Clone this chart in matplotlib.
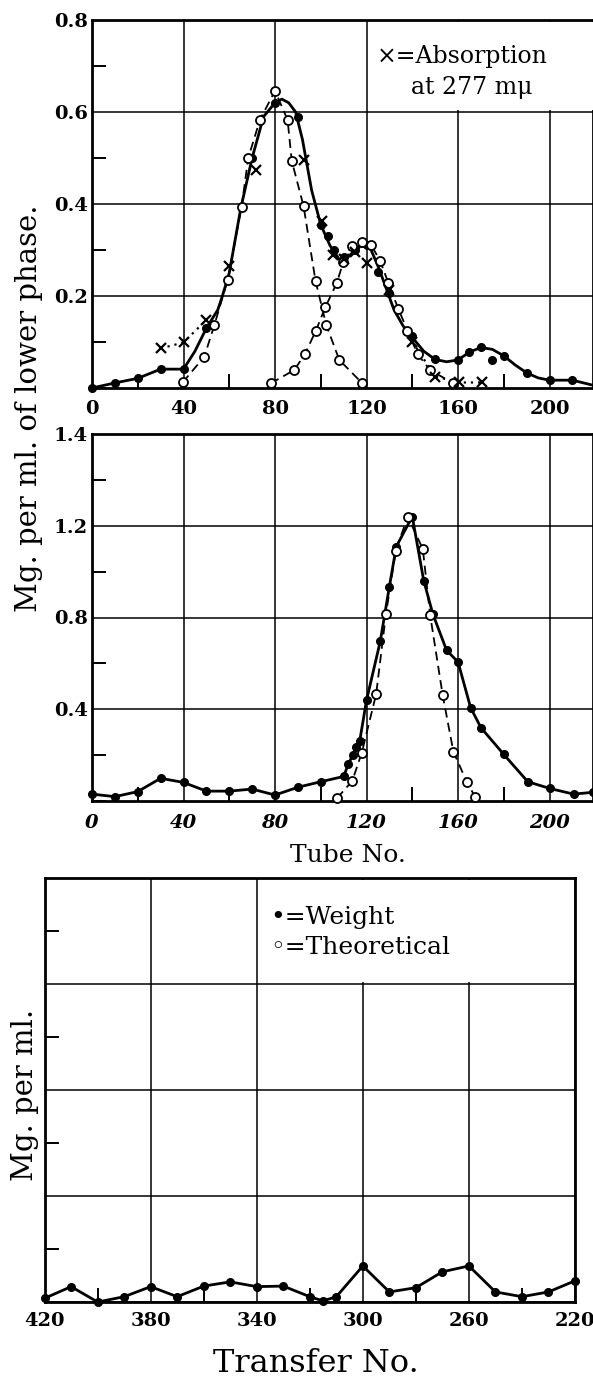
import matplotlib
matplotlib.use("Agg")
import numpy as np
import matplotlib.pyplot as plt
from matplotlib.patches import Rectangle
from matplotlib.ticker import MultipleLocator

plt.rcParams["font.family"] = ["DejaVu Serif", "DejaVu Sans"]

# --- top panel (tube no. vs mg per ml of lower phase) ---
top_wt_tube = [0, 10, 20, 30, 40, 50, 70, 80, 90, 100, 103, 106, 110, 115, 118,
               120, 125, 130, 140, 150, 160, 165, 170, 175, 180, 190, 200, 210]
top_wt_val = [0.0, 0.011, 0.021, 0.041, 0.041, 0.13, 0.50, 0.62, 0.59, 0.354, 0.33,
              0.30, 0.285, 0.30, 0.315, 0.31, 0.253, 0.206, 0.112, 0.062, 0.061,
              0.078, 0.09, 0.061, 0.07, 0.032, 0.017, 0.017]

# hand drawn solid curve
top_curve_tube = [0, 10, 20, 30, 40, 45, 50, 55, 57, 60, 65, 70, 75, 80, 83, 86, 89,
                  92, 96, 100, 104, 108, 112, 116, 119, 122, 125, 128, 132, 136, 140,
                  145, 150, 155, 160, 165, 170, 175, 180, 185, 190, 195, 200, 210, 219]
top_curve_val = [0.0, 0.011, 0.021, 0.041, 0.041, 0.08, 0.13, 0.17, 0.2, 0.25, 0.39,
                 0.50, 0.59, 0.62, 0.628, 0.62, 0.60, 0.54, 0.43, 0.355, 0.31, 0.28,
                 0.285, 0.305, 0.315, 0.30, 0.265, 0.225, 0.17, 0.135, 0.11, 0.08,
                 0.062, 0.057, 0.061, 0.078, 0.088, 0.084, 0.07, 0.05, 0.033, 0.022,
                 0.017, 0.017, 0.006]

top_th1_tube = [39.6, 49.1, 53.5, 59.3, 65.4, 68.3, 73.4, 80, 85.5, 87.3, 92.5, 97.7,
                102.4, 108.1, 118.2]
top_th1_val = [0.012, 0.068, 0.137, 0.235, 0.394, 0.50, 0.583, 0.646, 0.583, 0.494,
               0.395, 0.233, 0.137, 0.061, 0.010]

top_th2_tube = [78.1, 88.4, 93.0, 97.9, 102.0, 107.0, 109.9, 113.5, 117.9, 122.0,
                125.9, 129.5, 133.9, 137.9, 142.4, 147.8, 158.0]
top_th2_val = [0.010, 0.039, 0.073, 0.125, 0.176, 0.228, 0.275, 0.309, 0.318, 0.311,
               0.277, 0.229, 0.172, 0.125, 0.073, 0.039, 0.010]

top_abs_tube = [30, 40, 50, 60, 71.5, 92.8, 100.4, 105.5, 110, 115, 120, 130, 140,
                150, 160.6, 170.4]
top_abs_val = [0.086, 0.099, 0.148, 0.265, 0.474, 0.496, 0.362, 0.289, 0.28, 0.296,
               0.271, 0.213, 0.101, 0.025, 0.012, 0.012]

# --- middle panel ---
mid_wt_tube = [0, 10, 20, 30, 40, 50, 60, 70, 80, 90, 100, 110, 112, 114, 115.5, 117,
               120, 126, 130, 133, 140, 145, 149, 155, 160, 165.5, 170, 180, 190.5,
               200, 210.5, 219]
mid_wt_val = [0.030, 0.019, 0.041, 0.099, 0.081, 0.043, 0.043, 0.052, 0.026, 0.060,
              0.084, 0.107, 0.160, 0.20, 0.236, 0.26, 0.439, 0.696, 0.935, 1.109,
              1.24, 0.961, 0.815, 0.657, 0.606, 0.407, 0.320, 0.203, 0.084, 0.055,
              0.030, 0.038]

mid_th_tube = [107.1, 113.8, 117.9, 124.2, 128.5, 132.8, 138.0, 144.6, 147.8, 153.3,
               158.0, 163.8, 167.4]
mid_th_val = [0.012, 0.088, 0.21, 0.465, 0.816, 1.091, 1.24, 1.099, 0.812, 0.461,
              0.214, 0.084, 0.019]

# --- bottom panel (transfer no.) ---
bot_transfer = [420, 410, 400, 390, 380, 370, 360, 350, 340, 330, 320, 315, 310, 300,
                290, 280, 270, 260, 250, 240, 230, 220]
bot_val = [0.007, 0.029, 0.0, 0.010, 0.029, 0.010, 0.030, 0.038, 0.029, 0.030, 0.010,
           0.002, 0.010, 0.068, 0.019, 0.027, 0.057, 0.068, 0.019, 0.010, 0.019, 0.040]

W, H = 593, 1384
fig = plt.figure(figsize=(W / 100, H / 100), dpi=100)


def px_axes(x0, x1, y0, y1):
    return fig.add_axes([x0 / W, 1 - y1 / H, (x1 - x0) / W, (y1 - y0) / H])


def style(ax, xmaj, ymaj, xpad=8):
    ax.xaxis.set_major_locator(MultipleLocator(xmaj))
    ax.xaxis.set_minor_locator(MultipleLocator(xmaj / 2))
    ax.yaxis.set_major_locator(MultipleLocator(ymaj))
    ax.yaxis.set_minor_locator(MultipleLocator(ymaj / 2))
    ax.grid(True, which="major", color="black", lw=1.1)
    ax.tick_params(which="major", length=0, labelsize=14)
    ax.tick_params(axis="x", which="major", pad=xpad)
    ax.tick_params(axis="y", which="major", pad=3)
    ax.tick_params(which="minor", direction="in", length=10, width=1.4)
    for s in ax.spines.values():
        s.set_linewidth(2)
        s.set_color("black")


dash = (0, (5, 3))
solid_kw = dict(color="black", lw=2)
fill_kw = dict(ls="none", marker="o", ms=5.5, color="black", clip_on=False, zorder=4)
open_kw = dict(marker="o", ms=6.5, mfc="white", mec="black", mew=1.3, color="black",
               lw=1.3, ls=dash, clip_on=False, zorder=5)

# top
ax1 = px_axes(92, 593, 20, 388)
ax1.set_xlim(0, 219)
ax1.set_ylim(0, 0.8)
style(ax1, 40, 0.2, xpad=9)
ax1.set_yticks([0.2, 0.4, 0.6, 0.8])
ax1.set_yticklabels(["0.2", "0.4", "0.6", "0.8"], fontweight="bold")
ax1.set_xticks([0, 40, 80, 120, 160, 200])
ax1.set_xticklabels(["0", "40", "80", "120", "160", "200"], fontweight="bold")
ax1.plot(top_curve_tube, top_curve_val, **solid_kw, zorder=3)
ax1.plot(top_wt_tube, top_wt_val, **fill_kw)
ax1.plot(top_th1_tube, top_th1_val, **open_kw)
ax1.plot(top_th2_tube, top_th2_val, **open_kw)
abs_t = np.array(top_abs_tube)
abs_v = np.array(top_abs_val, dtype=float)
dotted_v = np.where((abs_t <= 50) | (abs_t >= 140), abs_v, np.nan)
ax1.plot(abs_t, dotted_v, color="black", lw=1.6, ls=(0, (1, 2.2)), zorder=4)
ax1.plot(abs_t, abs_v, ls="none", marker="x", ms=7, mew=1.6, color="black", zorder=6)
ax1.add_patch(Rectangle((121.5, 0.604), 97.5, 0.192, facecolor="white",
                        edgecolor="none", zorder=2.6))
ax1.text(124.5, 0.72, "\u00d7=Absorption", fontsize=17, va="center", ha="left", zorder=7)
ax1.text(139.5, 0.654, "at 277 m\u03bc", fontsize=17, va="center", ha="left", zorder=7)

# middle
ax2 = px_axes(92, 593, 434, 801)
ax2.set_xlim(0, 219)
ax2.set_ylim(0, 1.6)
style(ax2, 40, 0.4, xpad=9)
ax2.set_yticks([0.4, 0.8, 1.2, 1.6])
ax2.set_yticklabels(["0.4", "0.8", "1.2", "1.4"], fontweight="bold")
ax2.set_xticks([0, 40, 80, 120, 160, 200])
ax2.set_xticklabels(["0", "40", "80", "120", "160", "200"], fontweight="bold",
                    style="italic")
ax2.plot(mid_wt_tube, mid_wt_val, marker="o", ms=5.5, **solid_kw, clip_on=False, zorder=4)
ax2.plot(mid_th_tube, mid_th_val, **open_kw)

# bottom
ax3 = px_axes(44.6, 575, 878, 1302)
ax3.set_xlim(420, 220)
ax3.set_ylim(0, 0.8)
style(ax3, 40, 0.2, xpad=7)
ax3.set_yticklabels([])
ax3.set_xticks([420, 380, 340, 300, 260, 220])
ax3.set_xticklabels(["420", "380", "340", "300", "260", "220"], fontweight="bold")
ax3.plot(bot_transfer, bot_val, marker="o", ms=5.5, **solid_kw, clip_on=False, zorder=4)
ax3.add_patch(Rectangle((221.5, 0.604), 117, 0.192, facecolor="white",
                        edgecolor="none", zorder=2.6))
ax3.text(335, 0.725, "\u2022=Weight", fontsize=18, va="center", ha="left", zorder=7)
ax3.text(335, 0.668, "\u25e6=Theoretical", fontsize=18, va="center", ha="left", zorder=7)

# axis titles
fig.text(29 / W, 1 - 408 / H, "Mg. per ml. of lower phase.", rotation=90,
         ha="center", va="center", fontsize=21)
fig.text(348 / W, 1 - 855 / H, "Tube No.", ha="center", va="center", fontsize=18)
fig.text(25 / W, 1 - 1095 / H, "Mg. per ml.", rotation=90, ha="center", va="center",
         fontsize=21)
fig.text(316 / W, 1 - 1363 / H, "Transfer No.", ha="center", va="center", fontsize=23)

fig.savefig("out.png", dpi=100)
